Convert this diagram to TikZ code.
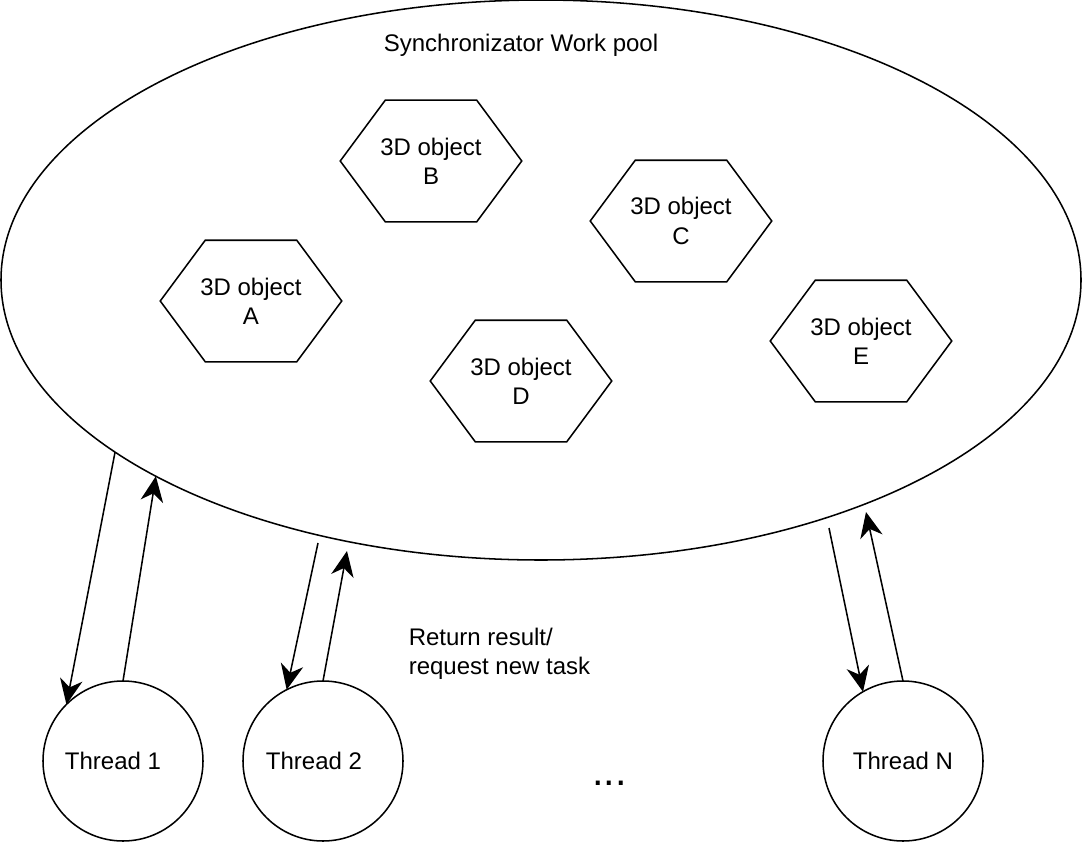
\documentclass[tikz,border=0pt]{standalone}
\usepackage{fontspec}
\setmainfont{Liberation Sans}
\usepackage{tikz}
\usetikzlibrary{calc}
\usetikzlibrary{arrows.meta,shapes}
\tikzset{
  txt/.style={font=\fontsize{18pt}{22pt}\selectfont, inner sep=0pt, align=center},
  objbox/.style={txt, minimum width=135pt, minimum height=90pt},
  threadbox/.style={draw, circle, minimum size=120pt, inner sep=0pt, outer sep=0pt},
  arr/.style={-{Stealth[length=19pt,width=17pt,inset=6pt]}}
}

\begin{document}
\begin{tikzpicture}[x=0.75pt, y=-0.75pt, line width=1.15pt]
  \useasboundingbox (0,0) rectangle (1082,842);
  \node[draw, ellipse, minimum width=810pt, minimum height=420pt, inner sep=0pt, outer sep=0pt] (pool) at (541,280) {};
  \node[txt, anchor=base] (title) at (521,52) {Synchronizator Work pool};
  % the five objects in the pool
  \foreach \n/\x/\y in {A/251/301, B/431/161, C/681/221, D/521/381, E/861/341} {
    \node[objbox] (obj\n) at (\x,\y) {3D object\\\n};
    \draw (obj\n.west) -- ($(obj\n.north west)+(45,0)$) -- ($(obj\n.north east)+(-45,0)$) -- (obj\n.east)
      -- ($(obj\n.south east)+(-45,0)$) -- ($(obj\n.south west)+(45,0)$) -- cycle;
  }
  % threads
  \node[threadbox, label={[txt, xshift=-7.5pt]center:Thread 1}] (t1) at (123,761) {};
  \node[threadbox, label={[txt, xshift=-6.75pt]center:Thread 2}] (t2) at (323,761) {};
  \node[threadbox, label={[txt]center:Thread N}] (tN) at (903,761) {};
  \node[font=\fontsize{31pt}{31pt}\selectfont, inner sep=0pt, anchor=base] (dots) at (609.5,785) {...};
  \node[txt, align=left, anchor=west] (msg) at (408,654) {Return result/\\request new task};
  % arrows
  \coordinate (t2out) at (318,543);
  \coordinate (t2in) at (347,551);
  \coordinate (tNout) at (829,528);
  \coordinate (tNin) at (866,512);
  \draw[arr] (pool.202.5) -- (t1.135);
  \draw[arr] (t1.north) -- (pool.207.4);
  \draw[arr] (t2out) -- (t2.117);
  \draw[arr] (t2.north) -- (t2in);
  \draw[arr] (tNout) -- (tN.120.6);
  \draw[arr] (tN.north) -- (tNin);
\end{tikzpicture}
\end{document}
